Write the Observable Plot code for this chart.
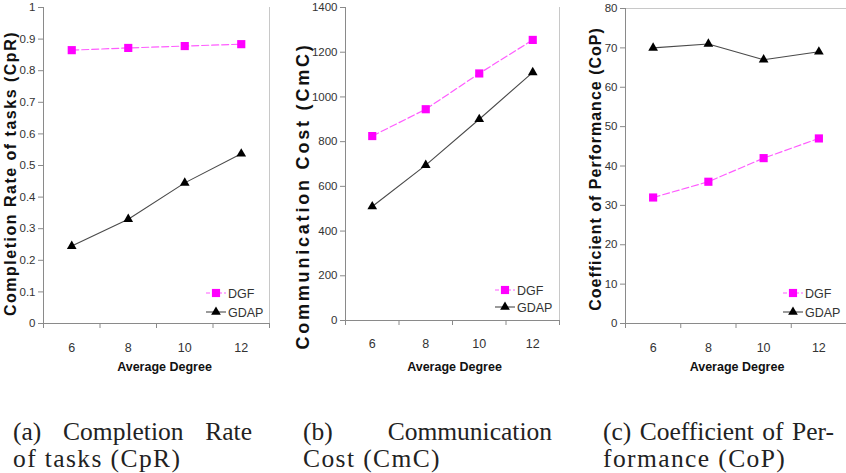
<!DOCTYPE html>
<html><head><meta charset="utf-8">
<script src="https://cdn.jsdelivr.net/npm/d3@7"></script>
<script src="https://cdn.jsdelivr.net/npm/@observablehq/plot@0.6"></script>
<style>
body{margin:0;background:#fff;}
#wrap{position:relative;width:846px;height:473px;overflow:hidden;background:#fff;}
.panel{position:absolute;top:0;}
.panel svg{font-family:"Liberation Sans",Arial,sans-serif;overflow:visible;}
.panel g[aria-label="y-axis tick"] path,.panel g[aria-label="x-axis tick"] path{stroke:#8a8a8a;}
.cap{position:absolute;font-family:"Liberation Serif","Times New Roman",serif;font-size:25.5px;color:#222;line-height:27px;}
.cap .l1{display:flex;justify-content:space-between;white-space:nowrap;}
.cap .l2{white-space:nowrap;letter-spacing:1.4px;}
</style></head><body><div id="wrap"></div>
<script>
// ---- data ----
const degrees = [6, 8, 10, 12];
const bandEdges = [5, 7, 9, 11, 13];
const seriesNames = ["DGF", "GDAP"];
const cprDGF = [0.865, 0.872, 0.878, 0.884];
const cprGDAP = [0.245, 0.33, 0.445, 0.537];
const cmcDGF = [825, 945, 1105, 1255];
const cmcGDAP = [510, 695, 900, 1110];
const copDGF = [32, 36, 42, 47];
const copGDAP = [70, 71, 67, 69];
const cprTicks = [0, 0.1, 0.2, 0.3, 0.4, 0.5, 0.6, 0.7, 0.8, 0.9, 1];
const cmcTicks = [0, 200, 400, 600, 800, 1000, 1200, 1400];
const copTicks = [0, 10, 20, 30, 40, 50, 60, 70, 80];
const yTitles = ["Completion Rate of tasks (CpR)", "Communication Cost (CmC)", "Coefficient of Performance (CoP)"];
const xTitle = "Average Degree";
const captions = [
  ["(a) Completion Rate", "of tasks (CpR)"],
  ["(b) Communication", "Cost (CmC)"],
  ["(c) Coefficient of Per-", "formance (CoP)"]
];

const wrap = document.getElementById("wrap");

function makePanel(cfg) {
  const rows = [];
  degrees.forEach((d, i) => {
    rows.push({deg: d, series: seriesNames[0], v: cfg.dgf[i]});
    rows.push({deg: d, series: seriesNames[1], v: cfg.gdap[i]});
  });
  const dgfRows = rows.filter(r => r.series === "DGF");
  const gdapRows = rows.filter(r => r.series === "GDAP");
  const yMin = cfg.ticks[0], yMax = cfg.ticks[cfg.ticks.length - 1];
  const marks = [];
  if (cfg.rightBorder) marks.push(Plot.ruleX([bandEdges[bandEdges.length - 1]], {stroke: "#c8c8c8"}));
  if (cfg.topBorder) marks.push(Plot.ruleY([yMax], {stroke: "#c8c8c8"}));
  marks.push(
    Plot.axisY({ticks: cfg.ticks, tickFormat: cfg.fmt, tickSize: 5, tickPadding: 3, label: null, fontSize: cfg.tickFont, fill: "#333"}),
    Plot.axisX({ticks: degrees, tickSize: 0, tickPadding: cfg.xPad, label: null, fontSize: cfg.tickFont + 1, fill: "#333", tickFormat: d => String(d)}),
    Plot.axisX({ticks: bandEdges, tickSize: 5, tickFormat: () => "", label: null}),
    Plot.ruleY([yMin], {stroke: "#8a8a8a"}),
    Plot.ruleX([bandEdges[0]], {stroke: "#8a8a8a"}),
    Plot.line(gdapRows, {x: "deg", y: "v", stroke: "#4a4a4a", strokeWidth: 1.1}),
    Plot.line(dgfRows, {x: "deg", y: "v", stroke: "#ff5cff", strokeWidth: 1.2, strokeDasharray: "7,3"}),
    Plot.dot(dgfRows, {x: "deg", y: "v", symbol: "square", fill: "#ff00ff", r: 4.6}),
    Plot.dot(gdapRows, {x: "deg", y: "v", symbol: "triangle", fill: "#000", r: 3.6}),
    Plot.text([cfg.title], {frameAnchor: "left", textAnchor: "middle", rotate: -90, dx: cfg.titleDx, dy: cfg.titleDy, fontWeight: "bold", fontSize: cfg.titleSize, fill: "#111"}),
    Plot.text([xTitle], {frameAnchor: "bottom", textAnchor: "middle", dy: cfg.xTitleDy, dx: cfg.xTitleDx, fontWeight: "bold", fontSize: 12.5, fill: "#111"})
  );
  const svg = Plot.plot({
    width: cfg.width, height: 385,
    marginLeft: cfg.ml, marginRight: cfg.mr, marginTop: cfg.mt, marginBottom: cfg.mb,
    x: {type: "linear", domain: [bandEdges[0], bandEdges[bandEdges.length - 1]]},
    y: {domain: [yMin, yMax]},
    style: {background: "transparent", overflow: "visible"},
    marks
  });
  svg.querySelectorAll("text").forEach(t => {
    if (t.textContent === cfg.title) {
      t.setAttribute("letter-spacing", cfg.titleSpacing);
      t.style.letterSpacing = cfg.titleSpacing + "px";
    }
  });
  // legend
  const fr = cfg.width - cfg.mr, fb = 385 - cfg.mb;
  const g = d3.select(svg).append("g").attr("text-anchor", "start");
  const mx = fr + cfg.legDx;
  const items = [
    {name: seriesNames[0], y: fb + cfg.legDy[0], stroke: "#ff5cff", dash: "4,2", sym: d3.symbolSquare, fill: "#ff00ff", size: Math.PI * 4.6 * 4.6},
    {name: seriesNames[1], y: fb + cfg.legDy[1], stroke: "#4a4a4a", dash: null, sym: d3.symbolTriangle, fill: "#000", size: Math.PI * 3.6 * 3.6}
  ];
  items.forEach(it => {
    g.append("line").attr("x1", mx - 10).attr("x2", mx + 10).attr("y1", it.y).attr("y2", it.y)
      .attr("stroke", it.stroke).attr("stroke-width", 1.1).attr("stroke-dasharray", it.dash);
    g.append("path").attr("d", d3.symbol(it.sym, it.size)()).attr("transform", `translate(${mx},${it.y})`).attr("fill", it.fill);
    g.append("text").attr("x", mx + 12).attr("y", it.y).attr("dy", "0.36em").attr("font-size", 12.5)
      .attr("text-anchor", "start").attr("fill", "#333").text(it.name);
  });
  const div = document.createElement("div");
  div.className = "panel";
  div.style.left = cfg.left + "px";
  div.appendChild(svg);
  wrap.appendChild(div);
}

makePanel({left: 0, width: 285, ml: 43, mr: 16, mt: 7, mb: 62, ticks: cprTicks, fmt: d => String(+d.toFixed(1)),
  dgf: cprDGF, gdap: cprGDAP, title: yTitles[0], titleDx: -33, titleDy: 8, titleSize: 16, titleSpacing: 1.5,
  tickFont: 11.5, xPad: 20, xTitleDy: 47, xTitleDx: 8, rightBorder: true, legDx: -53, legDy: [-30, -11]});
makePanel({left: 285, width: 290, ml: 60, mr: 16, mt: 7, mb: 65, ticks: cmcTicks, fmt: d => String(d),
  dgf: cmcDGF, gdap: cmcGDAP, title: yTitles[1], titleDx: -42, titleDy: 32, titleSize: 18, titleSpacing: 2.8,
  tickFont: 11.5, xPad: 19, xTitleDy: 50, xTitleDx: 2, rightBorder: true, legDx: -54, legDy: [-30, -13]});
makePanel({left: 570, width: 276, ml: 55, mr: 0, mt: 8, mb: 62, ticks: copTicks, fmt: d => String(d),
  dgf: copDGF, gdap: copGDAP, title: yTitles[2], titleDx: -30, titleDy: 3, titleSize: 16, titleSpacing: 1.0,
  tickFont: 11.5, xPad: 20, xTitleDy: 47, xTitleDx: 1, topBorder: true, legDx: -53, legDy: [-30, -11]});

// captions
const capPos = [[13, 252], [303, 552], [603, 834]];
captions.forEach((c, i) => {
  const d = document.createElement("div");
  d.className = "cap";
  d.style.left = capPos[i][0] + "px";
  d.style.top = "418px";
  d.style.width = (capPos[i][1] - capPos[i][0]) + "px";
  const l1 = document.createElement("div"); l1.className = "l1";
  c[0].split(" ").forEach(w => { const s = document.createElement("span"); s.textContent = w; l1.appendChild(s); });
  const l2 = document.createElement("div"); l2.className = "l2"; l2.textContent = c[1];
  d.appendChild(l1); d.appendChild(l2);
  wrap.appendChild(d);
});
</script></body></html>
